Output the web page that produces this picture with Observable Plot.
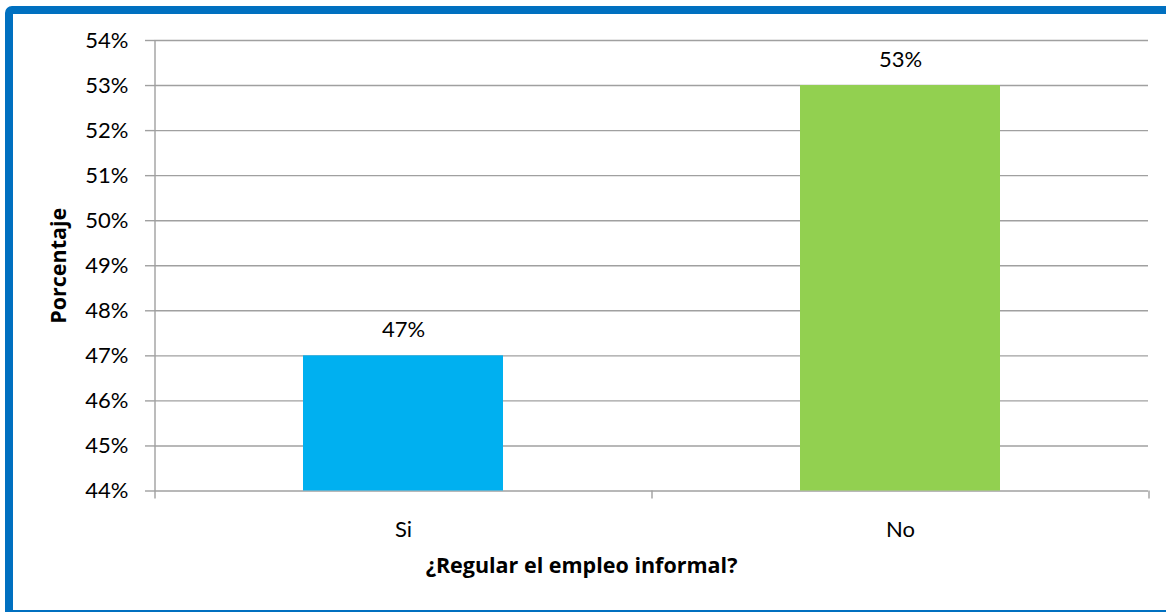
<!DOCTYPE html>
<html>
<head>
<meta charset="utf-8">
<script src="https://cdn.jsdelivr.net/npm/d3@7"></script>
<script src="https://cdn.jsdelivr.net/npm/@observablehq/plot@0.6"></script>
<style>
  html, body { margin: 0; padding: 0; background: #fff; }
  #wrap { position: relative; width: 1166px; height: 612px; overflow: hidden; }
  #frame { position: absolute; left: 5px; top: 6px; width: 1180px; height: 596px;
           border: 8px solid #0070c0; border-radius: 7px; pointer-events: none; }
  #chart { position: absolute; left: 0; top: 0; }
</style>
</head>
<body>
<div id="wrap"><div id="chart"></div><div id="frame"></div></div>
<script>
const categories = ["Si", "No"];
const values = [47, 53];
const barColors = ["#00b0f0", "#92d050"];
const yTicks = [44, 45, 46, 47, 48, 49, 50, 51, 52, 53, 54];
const xTitle = "¿Regular el empleo informal?";
const yTitle = "Porcentaje";

const data = categories.map((c, i) => ({cat: c, value: values[i], color: barColors[i]}));

const W = 1166, H = 612;
const mL = 154, mR = 18, mT = 40, mB = 121.5;
const step = (W - mL - mR) / categories.length;
const font = "Lato, 'Open Sans', sans-serif";
const boldFont = "'Open Sans', Lato, sans-serif";

const chart = Plot.plot({
  width: W, height: H,
  marginLeft: mL, marginRight: mR, marginTop: mT, marginBottom: mB,
  style: {fontFamily: font, fontSize: "22px", color: "#000", background: "transparent"},
  x: {domain: categories, paddingInner: 0.598, paddingOuter: 0.299},
  y: {domain: [44, 54]},
  marks: [
    Plot.ruleY(yTicks, {stroke: "#a0a0a0", strokeWidth: 1.4}),
    Plot.barY(data, {x: "cat", y1: 44, y2: "value", fill: "color"}),
    Plot.ruleX([categories[0]], {x: d => d, y1: 54, y2: 44, insetBottom: -8, dx: -step / 2, stroke: "#a0a0a0", strokeWidth: 1.4}),
    Plot.ruleX(categories, {x: d => d, y1: 44, y2: 44, insetBottom: -8, dx: step / 2, stroke: "#a0a0a0", strokeWidth: 1.4}),
    Plot.axisY({ticks: yTicks, tickFormat: d => d + "%", tickSize: 9, tickPadding: 17,
      stroke: "#a0a0a0", strokeWidth: 1.4, strokeOpacity: 1, fontSize: 22, label: null}),
    Plot.axisX({tickSize: 0, tickPadding: 30, fontSize: 22, label: null}),
    Plot.text(data, {x: "cat", y: "value", text: d => d.value + "%", dy: -26, fontSize: 22, fill: "#000"}),
    Plot.text([xTitle], {frameAnchor: "bottom", textAnchor: "middle", text: d => d, dy: 82, dx: -70,
      fontSize: 21.5, fontWeight: "bold", fontFamily: boldFont, fill: "#000"}),
    Plot.text([yTitle], {frameAnchor: "left", textAnchor: "middle", text: d => d, dx: -95, rotate: -90,
      fontSize: 21.5, fontWeight: "bold", fontFamily: boldFont, fill: "#000"})
  ]
});
document.getElementById("chart").appendChild(chart);
</script>
</body>
</html>
